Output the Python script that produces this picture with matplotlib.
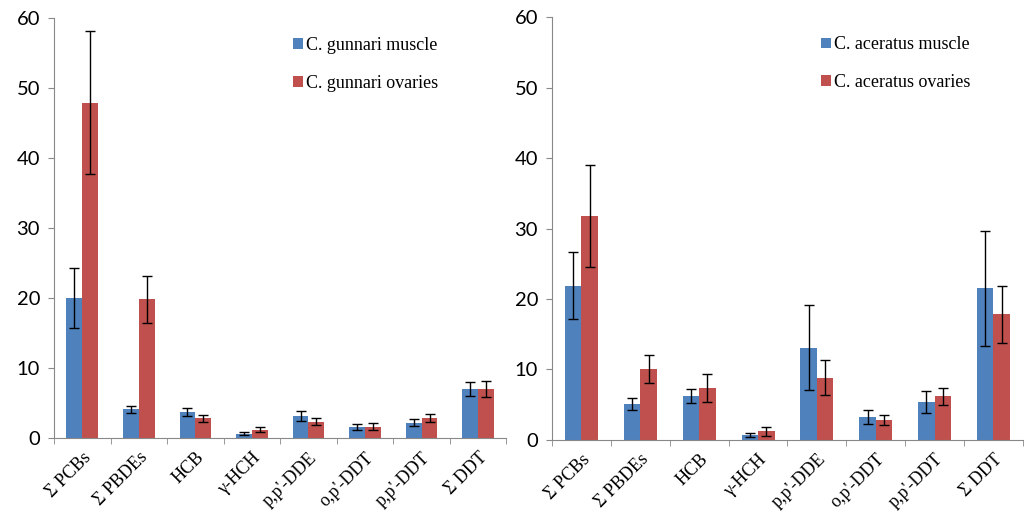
import numpy as np
import matplotlib
matplotlib.use('Agg')
import matplotlib.pyplot as plt

compounds = ['Σ PCBs', 'Σ PBDEs', 'HCB', 'γ-HCH', "p,p'-DDE", "o,p'-DDT", "p,p'-DDT", 'Σ DDT']

# C. gunnari
gun_muscle = [20.0, 4.1, 3.7, 0.6, 3.1, 1.6, 2.2, 7.0]
gun_muscle_err = [4.3, 0.5, 0.6, 0.2, 0.7, 0.4, 0.5, 1.0]
gun_ovaries = [47.9, 19.8, 2.8, 1.2, 2.3, 1.6, 2.9, 7.0]
gun_ovaries_err = [10.2, 3.4, 0.5, 0.4, 0.5, 0.5, 0.6, 1.1]

# C. aceratus
ace_muscle = [21.9, 5.1, 6.2, 0.66, 13.1, 3.3, 5.4, 21.5]
ace_muscle_err = [4.8, 0.9, 1.0, 0.3, 6.0, 1.0, 1.6, 8.2]
ace_ovaries = [31.8, 10.0, 7.4, 1.2, 8.8, 2.8, 6.2, 17.8]
ace_ovaries_err = [7.3, 2.0, 2.0, 0.6, 2.5, 0.7, 1.2, 4.0]

blue = '#4F81BD'
red = '#C0504D'

fig = plt.figure(figsize=(10.26, 5.12), dpi=100)
ax1 = fig.add_axes([0.0526, 0.1445, 0.441, 0.8205])
ax2 = fig.add_axes([0.538, 0.141, 0.459, 0.825])

panels = [
    (ax1, gun_muscle, gun_muscle_err, gun_ovaries, gun_ovaries_err,
     'C. gunnari muscle', 'C. gunnari ovaries', (0.528, 0.955)),
    (ax2, ace_muscle, ace_muscle_err, ace_ovaries, ace_ovaries_err,
     'C. aceratus muscle', 'C. aceratus ovaries', (0.572, 0.955)),
]

x = np.arange(len(compounds))
w = 0.28
for ax, m, me, o, oe, lm, lo, anchor in panels:
    ax.bar(x - w / 2, m, w, color=blue, label=lm,
           yerr=me, error_kw=dict(ecolor='black', elinewidth=1, capsize=3.5, capthick=1))
    ax.bar(x + w / 2, o, w, color=red, label=lo,
           yerr=oe, error_kw=dict(ecolor='black', elinewidth=1, capsize=3.5, capthick=1))
    ax.set_ylim(0, 60)
    ax.set_xlim(-0.5, len(compounds) - 0.5)
    ax.set_yticks(range(0, 61, 10))
    ax.set_yticklabels([str(v) for v in range(0, 61, 10)], fontsize=14.5, family='Lato')
    ax.set_xticks(x)
    ax.set_xticklabels(compounds, rotation=45, ha='right', rotation_mode='anchor',
                       fontsize=13, family='Liberation Serif')
    ax.set_xticks(np.arange(-0.5, len(compounds), 1), minor=True)
    ax.tick_params(axis='x', which='major', length=0, pad=8)
    ax.tick_params(axis='x', which='minor', length=4, color='#888888', direction='out')
    ax.tick_params(axis='y', length=4, color='#888888', pad=6)
    for s in ['top', 'right']:
        ax.spines[s].set_visible(False)
    for s in ['left', 'bottom']:
        ax.spines[s].set_color('#888888')
    ax.legend(loc='upper left', bbox_to_anchor=anchor, frameon=False,
              prop={'family': 'Liberation Serif', 'size': 13},
              handlelength=0.55, handleheight=0.55, handletextpad=0.15,
              labelspacing=1.15, borderpad=0, borderaxespad=0)

fig.savefig('out.png', dpi=100)
